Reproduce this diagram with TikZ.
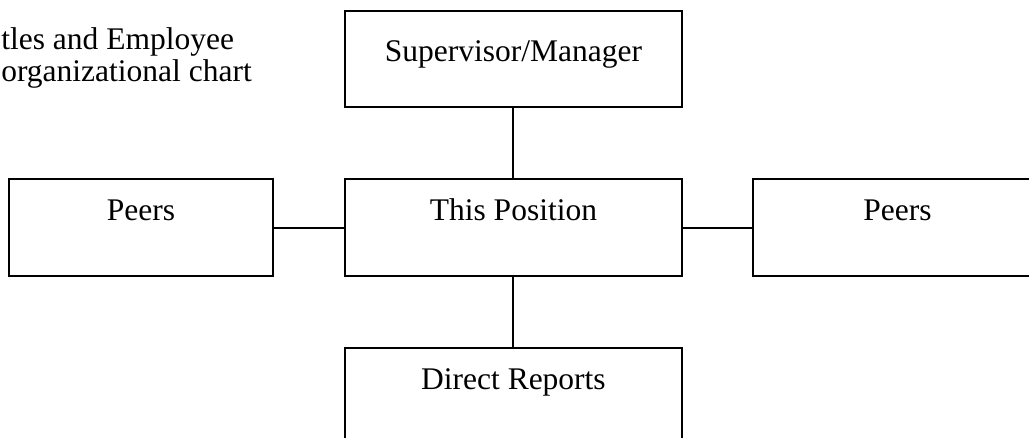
\documentclass[tikz,border=0pt]{standalone}
\usepackage{fontspec}
\setmainfont{Liberation Serif}
\usepackage{tikz}
\usetikzlibrary{shapes.geometric, arrows}
\tikzstyle{box} = [rectangle, minimum width=128.4pt, inner sep=0pt, text height=15.8pt, text depth=21.2pt, text centered, draw=black, line width=0.75pt]
\tikzstyle{line} = [line width=0.75pt, -]

\begin{document}
\begin{tikzpicture}[node distance=64.2pt, font=\fontsize{12}{12.2}\selectfont]
          \useasboundingbox (-195.6pt,-79.8pt) rectangle (196.4pt,86.7pt);
          \node (pos) [box] {This Position};
          \node (sup) [box, above of=pos, text height=19.4pt, text depth=17.2pt] {Supervisor/Manager};
          \node (lpeers) [box, left of=pos, xshift=-77.7pt, minimum width=100.6pt] {Peers};
          \node (rpeers) [box, right of=pos, xshift=82.1pt, minimum width=110.1pt] {Peers};
          \node (direct) [box, below of=pos] {Direct Reports};
          \node (title) [anchor=base west, inner sep=0pt, align=left] at (-195.3pt,55.8pt) {tles and Employee\\organizational chart};
          \draw [line] (sup) -- (pos);
          \draw [line] (pos) -- (direct);
          \draw [line] (lpeers) -- (pos);
          \draw [line] (pos) -- (rpeers);
        \end{tikzpicture}
\end{document}
